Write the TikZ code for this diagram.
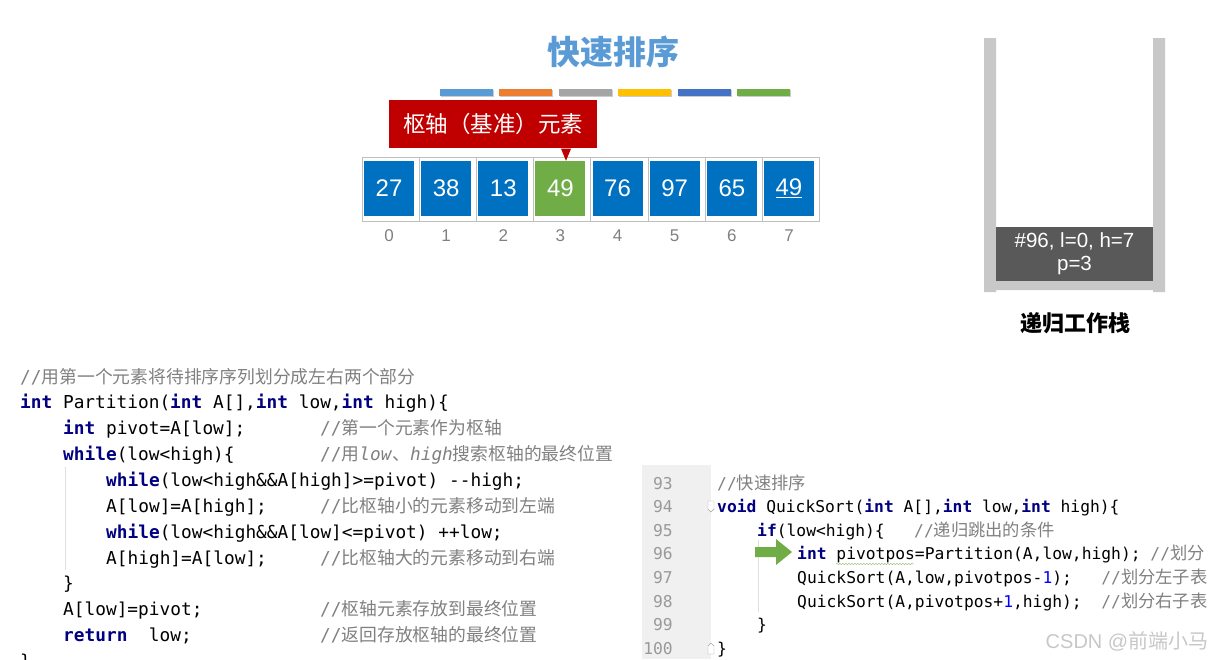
\documentclass[tikz,border=0pt]{standalone}
\usepackage{fontspec}
\setmainfont{Liberation Sans}
\newfontfamily\cjk{Noto Sans CJK SC}
\newfontfamily\cjkc[Scale=1.06]{Noto Sans CJK SC}
\newfontfamily\cjkl[Scale=1.0]{Noto Sans CJK SC}
\newfontfamily\codefont{DejaVu Sans Mono}
\usetikzlibrary{decorations.pathmorphing}
\definecolor{titleblue}{HTML}{5B9BD5}
\definecolor{barorange}{HTML}{ED7D31}
\definecolor{bargray}{HTML}{A5A5A5}
\definecolor{baryellow}{HTML}{FFC000}
\definecolor{bardblue}{HTML}{4472C4}
\definecolor{bargreen}{HTML}{70AD47}
\definecolor{cellblue}{HTML}{0070C0}
\definecolor{pivred}{HTML}{C00000}
\definecolor{stackgray}{HTML}{C8C8C8}
\definecolor{framegray}{HTML}{595959}
\definecolor{idxgray}{HTML}{808080}
\definecolor{kwblue}{HTML}{000080}
\definecolor{cmtgray}{HTML}{808080}
\definecolor{numblue}{HTML}{0000FF}
\definecolor{gutter}{HTML}{F0F0F0}
\definecolor{linegray}{HTML}{999999}
\newcommand\fs[1]{\fontsize{#1}{#1}\selectfont}
\newcommand\zh[1]{{\cjkc #1}}
\newcommand\zhl[1]{{\cjkl #1}}
\newcommand\kw[1]{\textcolor{kwblue}{\bfseries #1}}
\newcommand\cmt[1]{\textcolor{cmtgray}{#1}}
\begin{document}
\begin{tikzpicture}[x=1pt,y=-1pt,>=stealth,font=\fs{18},
  cell/.style={text=white,minimum width=50pt,minimum height=55pt,inner sep=0pt,font=\fs{24}},
  idx/.style={text=idxgray,font=\fs{17}},
  code/.style={anchor=base west,inner sep=0pt,font=\codefont\fs{17.8}},
  rcode/.style={code,font=\codefont\fs{16.3}},
  lineno/.style={anchor=base east,inner sep=0pt,text=linegray,font=\codefont\fs{16.3}},
  guide/.style={black!12,line width=0.8pt}]
\useasboundingbox (0,0) rectangle (1223,659);
% title and colour bars
\node[font=\cjk\bfseries\fs{33},text=titleblue] (title) at (613,52) {快速排序};
\foreach \c [count=\i from 0] in {titleblue,barorange,bargray,baryellow,bardblue,bargreen}
  {\fill[black!20] (441+59.4*\i,90) rectangle ++(53,7);
   \fill[\c] (440+59.4*\i,89) rectangle ++(53,7);}
% array
\foreach \v/\c [count=\i from 0] in {27/cellblue,38/cellblue,13/cellblue,49/bargreen,76/cellblue,97/cellblue,65/cellblue,\underline{49}/cellblue}{
  \draw[black!25] (362+57.14*\i,157) rectangle ++(57.14,64);
  \node[cell,fill=\c] (c\i) at (389+57.14*\i,188.5) {\v};
  \node[idx] (i\i) at (389+57.14*\i,236) {\i};}
\node[fill=pivred,text=white,font=\cjk\fs{22.5},minimum width=208pt,minimum height=48pt,inner sep=0pt] (tip) at (493,124) {枢轴（基准）元素};
\fill[pivred] ([yshift=-0.5pt,xshift=0.6pt]tip.south -| c3.north) -- ([yshift=-0.5pt,xshift=10.6pt]tip.south -| c3.north) -- ([xshift=5.6pt]c3.north) -- cycle;
% stack
\fill[stackgray] (984,38) rectangle (996,292) (1153,38) rectangle (1165,292) (996,281) rectangle (1153,290);
\node[fill=framegray,text=white,font=\fontsize{20.5}{23}\selectfont,align=center,minimum width=157pt,minimum height=54pt,inner sep=0pt] (f96) at (1074.5,254) {\#96, l=0, h=7\\p=3};
\node[font=\cjk\bfseries\fs{22}] (stk) at (1075,323) {递归工作栈};
% Partition
\draw[guide] (65,467) -- (65,570);
\node[code] (l1) at (20,383) {\cmt{//\zhl{用第一个元素将待排序序列划分成左右两个部分}}};
\node[code] (l2) at (20,408) {\kw{int} Partition(\kw{int} A[],\kw{int} low,\kw{int} high)\{};
\node[code] (l3) at (63,434) {\kw{int} pivot=A[low];};
\node[code] (m3) at (320,434) {\cmt{//\zhl{第一个元素作为枢轴}}};
\node[code] (l4) at (63,460) {\kw{while}(low<high)\{};
\node[code] (m4) at (320,460) {\cmt{//\zhl{用}\textit{low}\zhl{、}\textit{high}\zhl{搜索枢轴的最终位置}}};
\node[code] (l5) at (106,486) {\kw{while}(low<high\&\&A[high]>=pivot) {-}{-}high;};
\node[code] (l6) at (106,512) {A[low]=A[high];};
\node[code] (m6) at (320,512) {\cmt{//\zhl{比枢轴小的元素移动到左端}}};
\node[code] (l7) at (106,538) {\kw{while}(low<high\&\&A[low]<=pivot) ++low;};
\node[code] (l8) at (106,564) {A[high]=A[low];};
\node[code] (m8) at (320,564) {\cmt{//\zhl{比枢轴大的元素移动到右端}}};
\node[code] (l9) at (63,589) {\}};
\node[code] (l10) at (63,615) {A[low]=pivot;};
\node[code] (m10) at (320,615) {\cmt{//\zhl{枢轴元素存放到最终位置}}};
\node[code] (l11) at (63,641) {\kw{return}\ \ low;};
\node[code] (m11) at (320,641) {\cmt{//\zhl{返回存放枢轴的最终位置}}};
\node[code] (l12) at (20,667) {\}};
% QuickSort
\fill[gutter] (642,465) rectangle (711,659);
\foreach \n [count=\i from 0] in {93,...,100}
  \node[lineno] (n\n) at (673,489+23.6*\i) {\n};
\draw[guide] (758,540) -- (758,612);
\draw[black!35,fill=white] (708,501) -- (714,501) -- (714,509) -- (711,512) -- (708,509) -- cycle;
\draw[black!35,fill=white] (708,654) -- (714,654) -- (714,646) -- (711,643) -- (708,646) -- cycle;
\node[rcode] (r1) at (717,489) {\cmt{//\zh{快速排序}}};
\node[rcode] (r2) at (717,512.6) {\kw{void} QuickSort(\kw{int} A[],\kw{int} low,\kw{int} high)\{};
\node[rcode] (r3) at (757,536.2) {\kw{if}(low<high)\{\ \ \ \cmt{//\zh{递归跳出的条件}}};
\node[rcode] (r4) at (797,559.8) {\kw{int} pivotpos=Partition(A,low,high);\ \cmt{//\zh{划分}}};
\node[rcode] (r5) at (797,583.4) {QuickSort(A,low,pivotpos-\textcolor{numblue}{1});\ \ \ \cmt{//\zh{划分左子表}}};
\node[rcode] (r6) at (797,607) {QuickSort(A,pivotpos+\textcolor{numblue}{1},high);\ \ \cmt{//\zh{划分右子表}}};
\node[rcode] (r7) at (757,630.6) {\}};
\node[rcode] (r8) at (717,654.2) {\}};
\draw[bargreen!80,decorate,decoration={snake,amplitude=0.7pt,segment length=3pt}] (836,564) -- (914,564);
\fill[bargreen] (755,547) -- (776,547) -- (776,539) -- (792,552) -- (776,565) -- (776,557) -- (755,557) -- cycle;
\node[text=black!22,font=\fs{20}] (wm) at (1127,641) {CSDN @{\cjk 前端小马}};
\end{tikzpicture}
\end{document}
